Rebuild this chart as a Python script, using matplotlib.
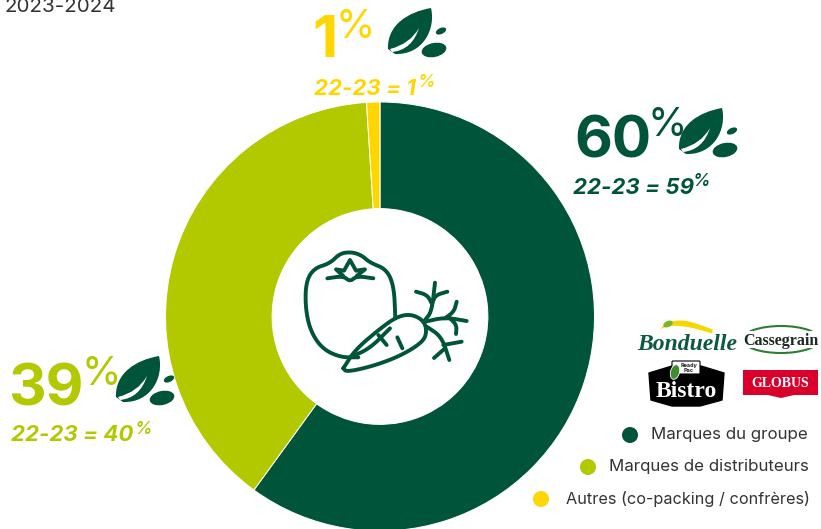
import matplotlib
matplotlib.use("Agg")
import matplotlib.pyplot as plt
import numpy as np
from matplotlib.path import Path
from matplotlib.patches import PathPatch, Ellipse, Rectangle, Circle, FancyBboxPatch, Polygon

categories = ["Marques du groupe", "Marques de distributeurs", "Autres (co-packing / confrères)"]
values = [60, 39, 1]
previous = [59, 40, 1]
DARK, LIME, YEL = "#00543A", "#B2C900", "#FFD600"
colors = [DARK, LIME, YEL]
W, H = 821, 529
FONT = "Inter"

fig = plt.figure(figsize=(W/100, H/100), dpi=100)
cx, cy, R = 380, 316.5, 214.5
pax = fig.add_axes([(cx-R)/W, 1-(cy+R)/H, 2*R/W, 2*R/H])
pax.pie(values, colors=colors, startangle=90, counterclock=False, radius=1,
        wedgeprops=dict(width=0.497, edgecolor="white", linewidth=0.7))
pax.set_xlim(-1, 1); pax.set_ylim(-1, 1); pax.set_aspect("equal")
for p in pax.patches: p.set_clip_on(False)

ax = fig.add_axes([0, 0, 1, 1], facecolor="none")
ax.set_xlim(0, W); ax.set_ylim(H, 0); ax.axis("off")

def T(x, y, s, size, color, ha="left", va="baseline", weight="normal", style="normal", **k):
    ax.text(x, y, s, fontsize=size, color=color, ha=ha, va=va, weight=weight, style=style, family=FONT, **k)

T(5, 12, "2023-2024", 14.8, "#333333")

def leaf(x0, y0, c=DARK):
    v = [Path.MOVETO, Path.CURVE4, Path.CURVE4, Path.CURVE4, Path.CURVE4, Path.CURVE4, Path.CURVE4, Path.CLOSEPOLY]
    pts = [(0, 42), (-1, 18), (20, 5), (43, 1), (48, 22), (35, 48), (7, 47), (0, 42)]
    ax.add_patch(PathPatch(Path([(x0+a, y0+b) for a, b in pts], v), fc=c, ec="none"))
    vein = [(4, 45), (24, 43), (31, 21), (22, 37), (2, 42), (4, 45)]
    cv = [Path.MOVETO, Path.CURVE3, Path.CURVE3, Path.CURVE3, Path.CURVE3, Path.LINETO]
    ax.add_patch(PathPatch(Path([(x0+a, y0+b) for a, b in vein], cv), fc="white", ec="none"))
    ax.add_patch(Ellipse((x0+46, y0+43), 25, 14, angle=-12, fc=c, ec="none"))
    ax.add_patch(Ellipse((x0+53, y0+24), 11, 6, angle=-25, fc=c, ec="none"))

leaf(388, 7); leaf(679, 107); leaf(116, 355)

def big(x, y, s, pctx, pcty, c):
    T(x, y, s, 42, c, weight="bold")
    T(pctx, pcty, "%", 29, c, weight="normal")

def sub(x, y, s, pctx, pcty, c):
    T(x, y, s, 16, c, weight="bold", style="italic")
    T(pctx, pcty, "%", 12.5, c, weight="semibold", style="italic")

big(312, 57, str(values[2]), 335, 38, YEL)
big(574, 157, str(values[0]), 648, 136, DARK)
big(8, 406, str(values[1]), 81, 385, LIME)
sub(314, 95, f"22-23 = {previous[2]}", 418, 87, YEL)
sub(573, 194, f"22-23 = {previous[0]}", 693, 186, DARK)
sub(11, 441, f"22-23 = {previous[1]}", 135, 434, LIME)

def chaikin(p, n=3):
    p = np.array(p, float)
    for _ in range(n):
        q = [p[0]]
        for a, b in zip(p[:-1], p[1:]):
            q += [.75*a+.25*b, .25*a+.75*b]
        q.append(p[-1]); p = np.array(q)
    return p

def stroke(pts, smooth=True, lw=2.8):
    p = chaikin(pts) if smooth else np.array(pts, float)
    ax.plot(p[:, 0]/3+290, p[:, 1]/3+240, color=DARK, lw=lw, solid_capstyle="round", solid_joinstyle="round")

stroke([(205,352),(150,352),(95,325),(60,270),(46,200),(48,125),(72,85),(120,70),(150,40),(185,36),(215,46),(240,68),(290,88),(312,140),(316,235)])
stroke([(112,115),(160,108),(180,125),(200,108),(250,115)])
stroke([(160,108),(138,88),(162,92),(180,60),(198,92),(225,88),(200,108)], smooth=False)
stroke([(160,385),(195,330),(265,270),(320,230),(365,222),(405,245),(410,285),(390,312),(330,348),(250,378),(170,396),(160,385)])
stroke([(185,350),(240,325),(300,265)])
stroke([(265,285),(290,315)]); stroke([(322,292),(337,325)])
stroke([(405,240),(425,215),(435,128)]); stroke([(378,155),(412,165),(425,190)])
stroke([(472,155),(438,165),(428,185)]); stroke([(405,245),(465,232),(530,243)])
stroke([(500,185),(492,215),(465,235)]); stroke([(480,235),(500,255),(498,282)])
stroke([(410,260),(455,290),(478,360)]); stroke([(460,315),(515,305)]); stroke([(465,325),(432,354)])

# Brand logos
ax.text(687, 350, "Bonduelle", fontsize=17, color="#0B5A40", ha="center", weight="bold", style="italic", family="Liberation Serif")
tt = np.linspace(0, 1, 30)
ax.fill_between(660+52*tt, 329-9*np.sin(np.pi*tt**0.7), 329-5*np.sin(np.pi*tt**0.7)+4*tt, color="#F5D800", lw=0)
ax.add_patch(Ellipse((668, 324), 10, 6, angle=-25, fc="#7DB52A", ec="none"))

ax.add_patch(Ellipse((781, 339.5), 77, 27, fc="white", ec="#2E7D32", lw=1.5))
ax.add_patch(Rectangle((741, 331), 80, 17, fc="white", ec="none"))
ax.text(780.5, 345, "Cassegrain", fontsize=11.5, color="#1B2A22", ha="center", weight="bold", family="Liberation Serif")

ax.add_patch(Polygon([(649,373),(672,366),(701,366),(724,373),(722,400),(700,406),(672,406),(651,400)], fc="black", ec="black", lw=1, joinstyle="round"))
ax.add_patch(FancyBboxPatch((673, 362), 26, 11, boxstyle="round,pad=1", fc="white", ec="black", lw=0.8))
T(689, 368, "Ready\nPac", 4, "#222222", ha="center", va="center", weight="bold", linespacing=.8)
ax.add_patch(Ellipse((675, 372), 9, 15, angle=15, fc="#3E8E2F", ec="white", lw=.6))
ax.text(686, 397, "Bistro", fontsize=17, color="white", ha="center", weight="bold", family="Liberation Serif")

ax.add_patch(Polygon([(743,370),(818,370),(818,395),(794,395),(781,398),(768,395),(743,395)], fc="#D9002B", ec="none"))
ax.text(780.5, 387, "GLOBUS", fontsize=10, color="white", ha="center", weight="bold", family="Liberation Serif")

# Legend
leg_y = [435, 467, 499]
leg_dot = [630, 588, 541]
leg_x = [651, 609, 566]
leg_size = [12.2, 12.2, 11.7]
for c, y, dx, tx, s, fs in zip(colors, leg_y, leg_dot, leg_x, categories, leg_size):
    ax.add_patch(Circle((dx, y), 8, fc=c, ec="none"))
    T(tx, y, s, fs, "#333333", va="center")

fig.savefig("out.png", dpi=100)
